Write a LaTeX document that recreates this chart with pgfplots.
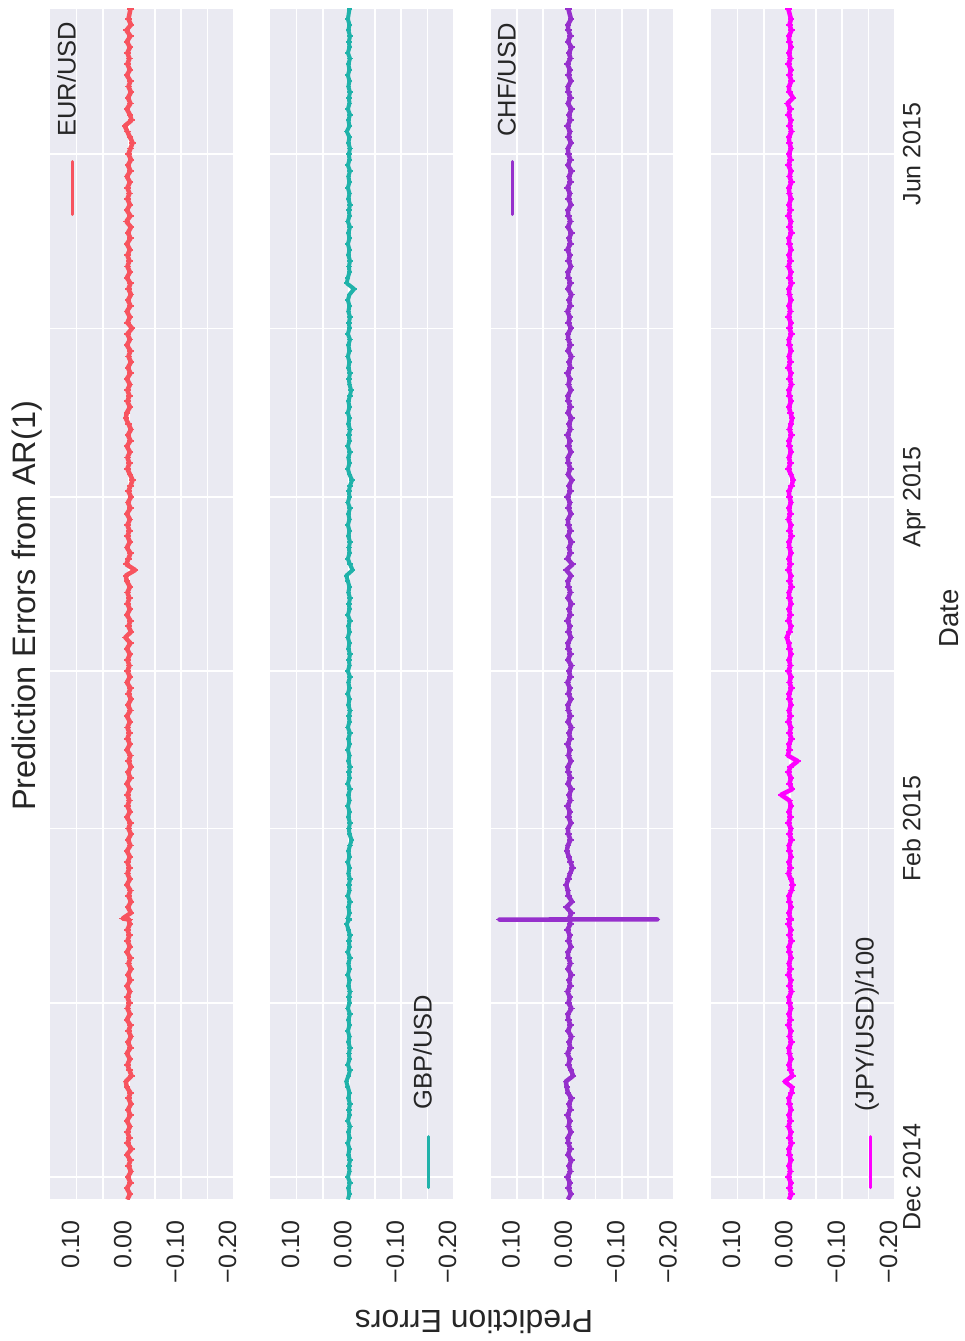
\documentclass[border=0pt]{standalone}
\usepackage{pgfplots}
\pgfplotsset{compat=1.18}
\usepackage{pgfplotstable}
\usepackage{fontspec}
\setmainfont{Liberation Sans}
\definecolor{bgc}{RGB}{234,234,242}
\definecolor{textc}{RGB}{38,38,38}
\definecolor{eurc}{RGB}{247,84,95}
\definecolor{gbpc}{RGB}{32,178,170}
\definecolor{chfc}{RGB}{150,48,204}
\definecolor{jpyc}{RGB}{255,0,255}
\newcommand\ticksize{\fontsize{25}{30}\selectfont}
\newcommand\legsize{\fontsize{25.5}{30}\selectfont}
\newcommand\titlesize{\fontsize{32.5}{39}\selectfont}
\newcommand\labsize{\fontsize{32}{38}\selectfont}
\newcommand\datesize{\fontsize{27.5}{33}\selectfont}

\pgfplotstableread{
d eur gbp chf jpy
-4 0.003 0.002 0.003 0.002
-3 -0.002 -0.001 -0.003 -0.003
-2 0.004 0.001 0.002 0.001
-1 -0.003 -0.002 -0.001 -0.002
0 0.002 0.002 0.004 0.003
1 -0.004 -0.001 -0.002 -0.001
2 0.001 0 0.001 0.002
3 -0.003 -0.002 -0.004 -0.002
4 0.004 0.001 0.003 0.001
5 -0.005 -0.001 -0.002 0.002
6 0.003 0.002 0.002 -0.003
7 -0.001 -0.001 0.003 0.001
8 0.003 0.001 -0.003 -0.002
9 -0.002 -0.002 0.002 0.003
10 0.004 0.002 -0.001 -0.001
11 -0.003 -0.001 0.004 0.002
12 0.002 0 -0.002 -0.002
13 -0.004 -0.002 0.001 0.001
14 0.001 0.001 -0.004 0.002
15 -0.003 -0.001 0.003 -0.003
16 0.004 0.002 0.005 -0.004
17 0.006 0.005 0.007 0.010
18 -0.005 0.001 -0.007 -0.005
19 -0.001 -0.002 -0.003 -0.001
20 0.003 0.002 0.002 0.002
21 -0.002 -0.001 -0.001 -0.002
22 0.004 0 0.004 0.001
23 -0.003 -0.002 -0.002 0.002
24 0.002 0.001 0.001 -0.003
25 -0.004 -0.001 -0.004 0.001
26 0.001 0.002 0.003 -0.002
27 -0.003 -0.001 -0.002 0.003
28 0.004 0.001 0.002 -0.001
29 -0.002 -0.002 0.003 0.002
30 0.003 0.002 -0.004 -0.002
31 -0.001 -0.001 0.002 0.001
32 0.003 0 -0.001 0.002
33 -0.002 -0.002 0.004 -0.003
34 0.004 0.001 -0.002 0.001
35 -0.003 -0.001 0.001 -0.002
36 0.002 0.002 -0.004 0.003
37 -0.004 -0.001 0.003 -0.001
38 0.001 0.001 -0.002 0.002
39 -0.003 -0.002 0.002 -0.002
40 0.004 0.002 0.003 0.001
41 -0.002 -0.001 -0.003 0.002
42 0.003 0 0.002 -0.003
43 -0.001 -0.002 -0.001 0.001
44 0.003 0.001 0.004 -0.002
45 -0.002 0.004 -0.002 0.003
45.80 0.001 0 0 -0.001
45.82 0 0.001 0.134 0.001
45.84 -0.001 -0.001 -0.168 0
45.86 0.002 0 0 0.001
46 0.012 0.002 0.001 -0.001
47 -0.004 -0.001 -0.004 0.002
48 0.002 0.001 0.006 -0.002
49 -0.004 -0.002 -0.005 0.001
50 0.001 0.002 0.002 0.002
51 -0.003 -0.001 0.003 -0.003
52 0.004 0 0.006 -0.005
53 -0.002 -0.002 0.002 -0.002
54 0.003 0.001 -0.001 0.003
55 -0.001 -0.001 -0.006 -0.001
56 0.003 0.002 -0.002 0.002
57 -0.002 -0.001 0.001 -0.002
58 0.004 0.001 0.005 0.001
59 -0.003 -0.002 0.003 0.002
60 0.002 -0.005 -0.002 -0.003
61 -0.004 -0.001 0.002 0.001
62 0.001 0 0.003 -0.002
63 -0.003 -0.002 -0.003 0.003
64 0.004 0.001 0.002 -0.001
65 -0.002 -0.001 -0.001 0.002
66 0.003 0.002 0.004 -0.002
67 -0.001 -0.001 -0.002 0.001
68 0.003 0.001 0.001 0.017
69 -0.002 -0.002 -0.004 -0.004
70 0.004 0.002 0.003 0.001
71 -0.003 -0.001 -0.002 -0.002
72 0.002 0 0.002 0.003
73 -0.004 -0.002 0.003 -0.001
74 0.001 0.001 -0.003 -0.015
75 -0.003 -0.001 0.002 0.004
76 0.004 0.002 -0.001 0.001
77 -0.002 -0.001 0.004 0.002
78 0.003 0.001 -0.002 -0.003
79 -0.001 -0.002 0.001 0.001
80 0.003 0.002 -0.004 -0.002
81 -0.002 -0.001 0.003 0.003
82 0.004 0 -0.002 -0.001
83 -0.003 -0.002 0.002 0.002
84 0.002 0.001 0.003 -0.002
85 -0.004 -0.001 -0.003 0.001
86 0.001 0.002 0.002 0.002
87 -0.003 -0.001 -0.001 -0.003
88 0.004 0.001 0.004 0.001
89 -0.002 -0.002 -0.002 -0.002
90 0.003 0.002 0.001 0.003
91 -0.001 -0.001 -0.004 -0.001
92 0.003 0 0.003 0.002
93 -0.002 -0.002 -0.002 -0.002
94 0.004 0.001 0.002 0.001
95 -0.003 -0.001 0.003 0.002
96 0.007 0.002 -0.003 0.006
97 -0.004 -0.001 0.002 0.001
98 0.001 0.001 -0.001 -0.002
99 -0.003 -0.002 0.004 0.003
100 0.004 0.002 -0.002 -0.001
101 -0.002 -0.001 0.001 0.002
102 0.003 0 -0.004 -0.002
103 -0.001 -0.002 0.003 0.001
104 0.003 0.001 -0.002 0.002
105 -0.002 -0.001 0.002 -0.003
106 0.004 0.002 0.003 0.001
107 0.006 0.005 -0.003 -0.002
108 -0.012 -0.007 0.006 0.003
109 0.005 -0.002 -0.006 -0.001
110 0.001 0.002 0.004 0.002
111 -0.003 -0.001 -0.002 -0.002
112 0.004 0 0.001 0.001
113 -0.002 -0.002 -0.004 0.002
114 0.003 0.001 0.003 -0.003
115 -0.001 -0.001 -0.002 0.001
116 0.003 0.002 0.002 -0.002
117 -0.002 -0.001 0.003 0.003
118 0.004 0.001 -0.003 -0.001
119 -0.003 -0.002 0.002 0.002
120 0.002 0.002 -0.001 -0.002
121 -0.004 -0.001 0.004 0.001
122 0.001 0 -0.002 0.002
123 -0.003 -0.002 0.001 -0.003
124 -0.007 -0.006 -0.005 -0.006
125 -0.002 -0.001 0.003 -0.002
126 0.003 0.002 -0.002 0.003
127 -0.001 -0.001 0.002 -0.001
128 0.003 0.001 0.003 0.002
129 -0.002 -0.002 -0.003 -0.002
130 0.004 0.002 0.002 0.001
131 -0.003 -0.001 -0.001 0.002
132 0.002 0 0.004 -0.003
133 -0.004 -0.002 -0.002 0.001
134 0.001 0.001 0.001 -0.002
135 0.006 -0.001 -0.004 -0.004
136 0.004 0.002 0.003 -0.001
137 -0.002 -0.001 -0.002 0.002
138 0.003 0.001 0.002 -0.002
139 -0.001 -0.002 0.003 0.001
140 0.003 -0.004 -0.003 0.002
141 -0.002 -0.001 0.002 -0.003
142 0.004 0 -0.001 0.001
143 -0.003 -0.002 0.004 -0.002
144 0.002 0.001 -0.002 0.003
145 -0.004 -0.001 0.001 -0.001
146 0.001 0.002 -0.004 0.002
147 -0.003 -0.001 0.003 -0.002
148 0.004 0.001 -0.002 0.001
149 -0.002 -0.002 0.002 0.002
150 0.003 0.002 0.003 -0.003
151 -0.006 -0.001 -0.003 0.001
152 0.003 0 0.002 -0.002
153 -0.002 -0.002 -0.001 0.003
154 0.004 0.001 0.004 -0.001
155 -0.003 -0.001 -0.002 0.002
156 0.002 0.002 0.001 -0.002
157 -0.004 -0.001 -0.004 0.001
158 0.001 -0.010 0.003 0.002
159 -0.003 0.004 -0.002 -0.003
160 0.004 0.002 0.002 0.001
161 -0.002 -0.001 0.003 -0.002
162 0.003 0 -0.003 0.003
163 -0.001 -0.002 0.002 -0.001
164 0.003 0.001 -0.001 0.002
165 -0.002 -0.001 0.004 -0.002
166 0.004 0.002 -0.002 0.001
167 -0.003 -0.001 0.001 0.002
168 0.002 0.001 -0.004 -0.003
169 -0.004 -0.002 0.003 0.001
170 0.005 0.002 -0.002 -0.002
171 -0.003 -0.001 0.002 0.003
172 0.004 0 0.003 -0.001
173 -0.002 -0.002 -0.003 0.002
174 0.003 0.001 0.002 -0.002
175 -0.001 -0.001 -0.001 0.001
176 0.003 0.002 0.004 0.002
177 -0.002 -0.001 -0.002 -0.003
178 0.004 0.001 0.001 0.001
179 -0.003 -0.002 -0.004 -0.002
180 0.002 0.002 0.003 0.003
181 -0.004 -0.001 -0.002 -0.001
182 0.001 0 0.002 0.002
183 -0.003 -0.002 0.003 -0.002
184 -0.007 0.001 -0.003 0.001
185 -0.002 -0.001 0.002 0.002
186 0.003 0.004 -0.001 -0.003
187 0.008 -0.001 0.004 0.001
188 -0.005 0.001 -0.002 -0.002
189 -0.002 -0.002 0.001 0.003
190 0.004 0.002 -0.004 -0.001
191 -0.003 -0.001 0.003 0.005
192 0.002 0 -0.002 -0.006
193 -0.004 -0.002 0.002 0.001
194 0.001 0.001 0.003 0.002
195 -0.003 -0.001 -0.003 -0.003
196 0.004 0.002 0.002 0.001
197 -0.002 -0.001 -0.001 -0.002
198 0.003 0.001 0.004 0.003
199 -0.001 -0.002 -0.002 -0.001
200 0.003 0.002 0.001 0.002
201 -0.002 -0.001 -0.004 -0.002
202 0.004 0 0.003 0.001
203 -0.003 -0.002 -0.002 0.002
204 0.005 0.001 0.002 -0.003
205 -0.004 -0.001 0.003 0.001
206 0.001 0.002 -0.003 -0.002
207.8 -0.003 -0.001 0.002 0.003
}\datatable

\pgfplotsset{
  panel/.style={
    scale only axis, width=184pt, height=1190pt,
    anchor=south west,
    xmin=-0.201, xmax=0.151, x dir=reverse,
    ymin=-3.9, ymax=207.8,
    axis background/.style={fill=bgc},
    axis line style={draw=none},
    major tick length=0pt, minor tick length=0pt,
    grid=both,
    major grid style={white, line width=1.6pt},
    minor grid style={white, line width=1.6pt},
    xtick={-0.2,-0.1,0,0.1},
    xticklabels={−0.20,−0.10,0.00,0.10},
    minor xtick={-0.15,-0.05,0.05},
    ytick={0,62,121,182},
    minor ytick={31,90,151},
    yticklabels={,,,},
    xticklabel style={rotate=90, anchor=east, inner sep=0pt, font=\ticksize, text=textc, text height=0.72em, text depth=0.21em},
    xticklabel shift=21pt,
  },
  series/.style={line width=#1, line join=round, mark=-, mark size=3.2pt, mark options={line width=1.8pt, solid}},
}

\begin{document}
\begin{tikzpicture}
\path[use as bounding box] (0pt,0pt) rectangle (964pt,-1341pt);

\begin{axis}[panel, at={(50pt,-1199pt)}]
\addplot[eurc, series=4.5pt] table[x=eur, y=d] {\datatable};
\end{axis}

\begin{axis}[panel, at={(270pt,-1199pt)}]
\addplot[gbpc, series=4pt, mark size=2.6pt] table[x=gbp, y=d] {\datatable};
\end{axis}

\begin{axis}[panel, at={(490.5pt,-1199pt)}]
\addplot[chfc, series=4.5pt] table[x=chf, y=d] {\datatable};
\end{axis}

\begin{axis}[panel, at={(711pt,-1199pt)},
  yticklabel pos=right,
  yticklabels={Dec 2014,Feb 2015,Apr 2015,Jun 2015},
  yticklabel style={rotate=90, anchor=north, inner sep=0pt, font=\ticksize, text=textc, text height=0.72em, text depth=0.21em},
  yticklabel shift=18pt]
\addplot[jpyc, series=4.5pt] table[x=jpy, y=d] {\datatable};
\end{axis}

% legends
\draw[eurc, line width=3pt, line cap=round] (72pt,-161.5pt) -- (72pt,-214.5pt);
\node[rotate=90, anchor=west, inner sep=0pt, text height=0.72em, text depth=0pt, font=\legsize, text=textc] at (72pt,-137pt) {EUR/USD};
\draw[gbpc, line width=3pt, line cap=round] (428pt,-1136.5pt) -- (428pt,-1187.5pt);
\node[rotate=90, anchor=west, inner sep=0pt, text height=0.72em, text depth=0pt, font=\legsize, text=textc] at (428pt,-1110pt) {GBP/USD};
\draw[chfc, line width=3pt, line cap=round] (512pt,-161.5pt) -- (512pt,-214.5pt);
\node[rotate=90, anchor=west, inner sep=0pt, text height=0.72em, text depth=0pt, font=\legsize, text=textc] at (512pt,-137pt) {CHF/USD};
\draw[jpyc, line width=3pt, line cap=round] (870pt,-1136.5pt) -- (870pt,-1187.5pt);
\node[rotate=90, anchor=west, inner sep=0pt, text height=0.72em, text depth=0pt, font=\legsize, text=textc] at (870pt,-1112pt) {(JPY/USD)/100};

% titles and labels
\node[rotate=90, anchor=base, font=\titlesize, text=textc] at (35pt,-606pt) {Prediction Errors from AR(1)};
\node[rotate=90, anchor=base, font=\datesize, text=textc] at (958pt,-618.5pt) {Date};
\node[rotate=180, anchor=base, font=\labsize, text=textc] at (474pt,-1310pt) {Prediction Errors};
\end{tikzpicture}
\end{document}
